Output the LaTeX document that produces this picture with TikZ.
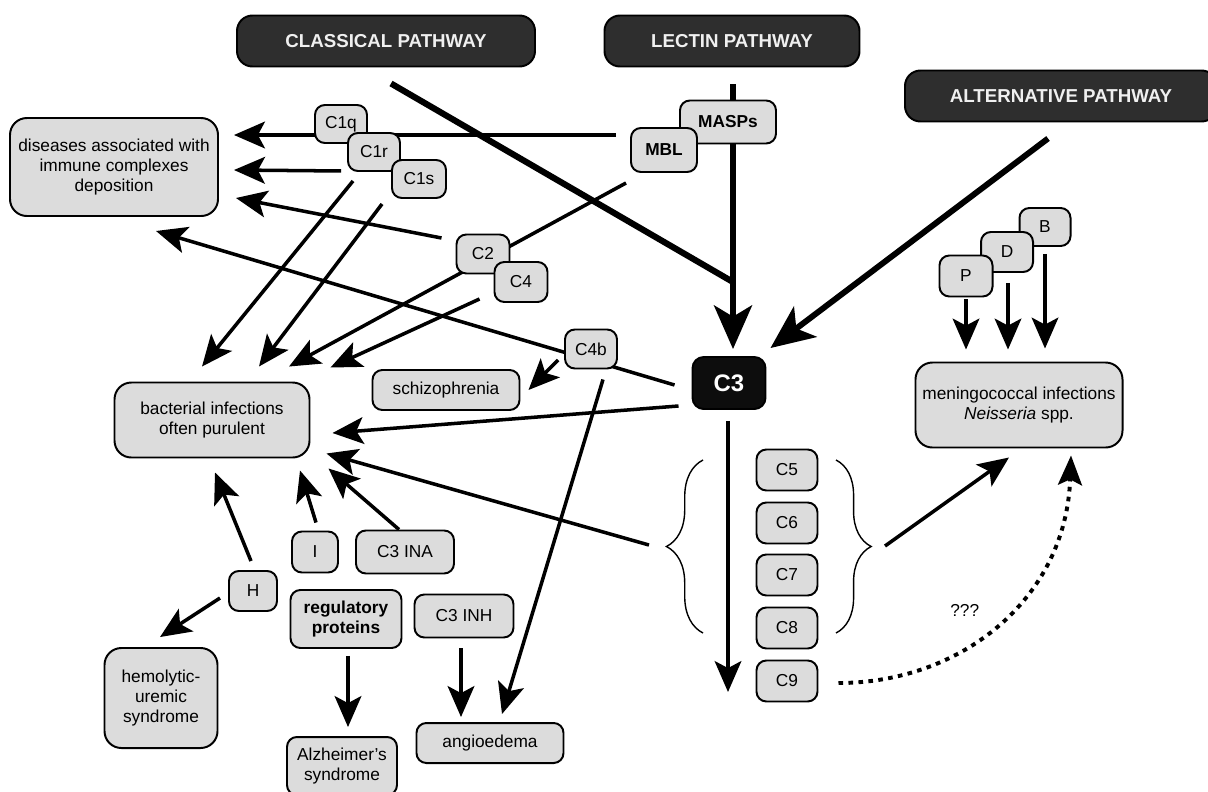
\documentclass[tikz,border=0pt]{standalone}
\usepackage{fontspec}
\setmainfont{Liberation Sans}
\usepackage{tikz}
\usepackage{xcolor}
\usetikzlibrary{arrows.meta, calc, backgrounds, decorations.pathreplacing}

\definecolor{boxgray}{HTML}{DCDCDC}
\definecolor{darkbox}{HTML}{2E2E2E}

\tikzset{
    sz/.style 2 args={minimum width=#1*0.025cm, minimum height=#2*0.025cm},
    brace/.style={line width=1pt, decorate, decoration={brace, amplitude=#1}},
}

\begin{document}
\begin{tikzpicture}[
            x=0.025cm, y=-0.025cm,
            box/.style={draw, line width=1.4pt, fill=boxgray, rounded corners=7pt, inner sep=0pt, align=center,
                font=\fontsize{12.3}{14}\selectfont},
            big/.style={box, rounded corners=12pt},
            bold/.style={font=\fontsize{12.3}{14}\selectfont\bfseries},
            dark/.style={draw, line width=1.4pt, fill=darkbox, text=white!94!black, rounded corners=11pt, inner sep=0pt,
                font=\fontsize{13.3}{15}\selectfont\bfseries},
            core/.style={draw, line width=1.4pt, fill=black!95, text=white, rounded corners=8pt, inner sep=0pt,
                font=\fontsize{17}{19}\selectfont\bfseries},
            arr/.style={line width=2.5pt, -{Stealth[length=22pt, width=19pt, inset=5pt]}},
            bigarr/.style={line width=4.2pt, -{Stealth[length=31pt, width=27pt, inset=8pt]}},
            trunk/.style={line width=4.4pt},
            dots/.style={line width=2.8pt, dash pattern=on 3.3pt off 3.8pt, -{Stealth[length=21pt, width=17pt, inset=4pt]}},
        ]
            \useasboundingbox (0,0) rectangle (1208,791);

            \node[dark, sz={298}{51}] (cls) at (386,41) {CLASSICAL PATHWAY};
            \node[dark, sz={255}{51}] (lec) at (732,41) {LECTIN PATHWAY};
            \node[dark, sz={312}{51}] (alt) at (1061,96) {ALTERNATIVE PATHWAY};

            \node[big, sz={208}{98}] (dis) at (114,167) {diseases associated with\\immune complexes\\deposition};
            \node[box, sz={52}{38}] (c1q) at (341,124) {C1q};
            \node[box, sz={52}{38}] (c1r) at (374,152) {C1r};
            \node[box, sz={54}{38}] (c1s) at (419,179) {C1s};
            \node[box, bold, sz={96}{43}] (masps) at (728,122) {MASPs};
            \node[box, bold, sz={66}{44}] (mbl) at (664,150) {MBL};
            \node[box, sz={53}{39}] (c2) at (483,254) {C2};
            \node[box, sz={53}{40}] (c4) at (521,282) {C4};
            \node[box, sz={52}{39}] (c4b) at (591,349) {C4b};
            \node[box, sz={147}{40}] (schizo) at (446,390) {schizophrenia};
            \node[big, sz={195}{75}] (bact) at (212,420) {bacterial infections\\often purulent};
            \node[core, sz={73}{52}] (c3) at (729,383) {C3};
            \node[big, sz={207}{85}] (men) at (1019,405) {meningococcal infections\\\textit{Neisseria} spp.};

            \node[box, sz={51}{38}] (fb) at (1045,227) {B};
            \node[box, sz={52}{40}] (fd) at (1007,252) {D};
            \node[box, sz={53}{41}] (fp) at (966,276) {P};

            \foreach \n/\y in {5/470, 6/523, 7/575, 8/628, 9/681}
                \node[box, sz={61}{41}] (c\n) at (787,\y) {C\n};

            \node[box, sz={46}{41}] (fi) at (315,552) {I};
            \node[box, sz={98}{43}] (ina) at (405,552) {C3 INA};
            \node[box, sz={48}{40}] (fh) at (253,591) {H};
            \node[box, bold, sz={111}{58}] (reg) at (346,619) {regulatory\\proteins};
            \node[box, sz={99}{43}] (inh) at (464,616) {C3 INH};
            \node[big, sz={113}{100}] (hus) at (161,698) {hemolytic-\\uremic\\syndrome};
            \node[box, sz={110}{58}] (alz) at (342,766) {Alzheimer's\\syndrome};
            \node[box, sz={147}{40}] (angio) at (490,743) {angioedema};

            \coordinate (join) at (733,282);
            \coordinate (c3end) at (728,692);
            \coordinate (lbr) at (666,546);
            \coordinate (rbr) at (871,546);

            \begin{scope}[on background layer]
                \draw[trunk] ($(cls.south)+(5,16)$) -- (join);
                \draw[bigarr] ($(lec.south)+(1,17)$) -- ($(c3.north)+(4,-7)$);
                \draw[bigarr] ($(alt.south)+(-13,16)$) -- ($(c3.north east)+(4,-8)$);

                \draw[arr] ($(mbl.west)+(-14,-15)$) -- ($(dis.east)+(15,-32)$);
                \draw[arr] ($(c1r.south west)+(-6,-1)$) -- ($(dis.east)+(15,3)$);
                \draw[arr] ($(c2.west)+(-14,-16)$) -- ($(dis.east)+(17,31)$);
                \draw[arr] ($(c3.west)+(-17,2)$) -- ($(dis.south)+(42,14)$);

                \draw[arr] ($(c1r.south west)+(6,9)$) -- ($(bact.north)+(-10,-15)$);
                \draw[arr] ($(c1s.south west)+(-9,5)$) -- ($(bact.north)+(47,-15)$);
                \draw[arr] ($(mbl.south west)+(-4,10)$) -- ($(bact.north)+(77,-15)$);
                \draw[arr] ($(c4.south west)+(-14,-4)$) -- ($(bact.north east)+(20,-14)$);
                \draw[arr] ($(c3.south west)+(-13,-4)$) -- ($(bact.east)+(22,13)$);
                \draw[arr] ($(lbr)+(-17,-1)$) -- ($(bact.south east)+(16,-5)$);
                \draw[arr] ($(fh.north)+(-2,-9)$) -- ($(bact.south)+(3,14)$);
                \draw[arr] ($(fi.north)+(1,-8)$) -- ($(bact.south)+(88,12)$);
                \draw[arr] ($(ina.north)+(-6,0)$) -- ($(bact.south east)+(18,10)$);

                \draw[arr] ($(c4b.west)+(-6,11)$) -- ($(schizo.east)+(8,0)$);
                \draw[arr] ($(c4b.south)+(12,10)$) -- ($(angio.north)+(12,-8)$);
                \draw[arr] ($(fh.west)+(-8,7)$) -- ($(hus.north)+(-1,-10)$);
                \draw[arr] ($(reg.south)+(2,7)$) -- ($(alz.north)+(6,-9)$);
                \draw[arr] ($(inh.south)+(-3,10)$) -- ($(angio.north)+(-29,-5)$);

                \draw[arr, line width=2.2pt] ($(fp.south)+(0,2)$) -- ($(men.north)+(-53,-12)$);
                \draw[arr, line width=2.2pt] ($(fd.south)+(1,10)$) -- ($(men.north)+(-11,-12)$);
                \draw[arr, line width=2.2pt] ($(fb.south)+(0,7)$) -- ($(men.north)+(26,-13)$);

                \draw[arr, line width=2.2pt] ($(c3.south)+(-1,11)$) -- (c3end);
                \draw[brace=26pt] (703,633) -- (703,460);
                \draw[brace=25pt] (836,460) -- (836,633);
                \draw[arr] ($(rbr)+(14,0)$) -- ($(men.south)+(-10,9)$);
                \draw[dots] ($(c9.east)+(20,2)$) .. controls (960,683) and (1066,600) .. ($(men.south)+(52,7)$)
                    node[pos=0.5, left=9pt, yshift=9pt, solid, font=\fontsize{12.3}{14}\selectfont] {???};
            \end{scope}
        \end{tikzpicture}
\end{document}
